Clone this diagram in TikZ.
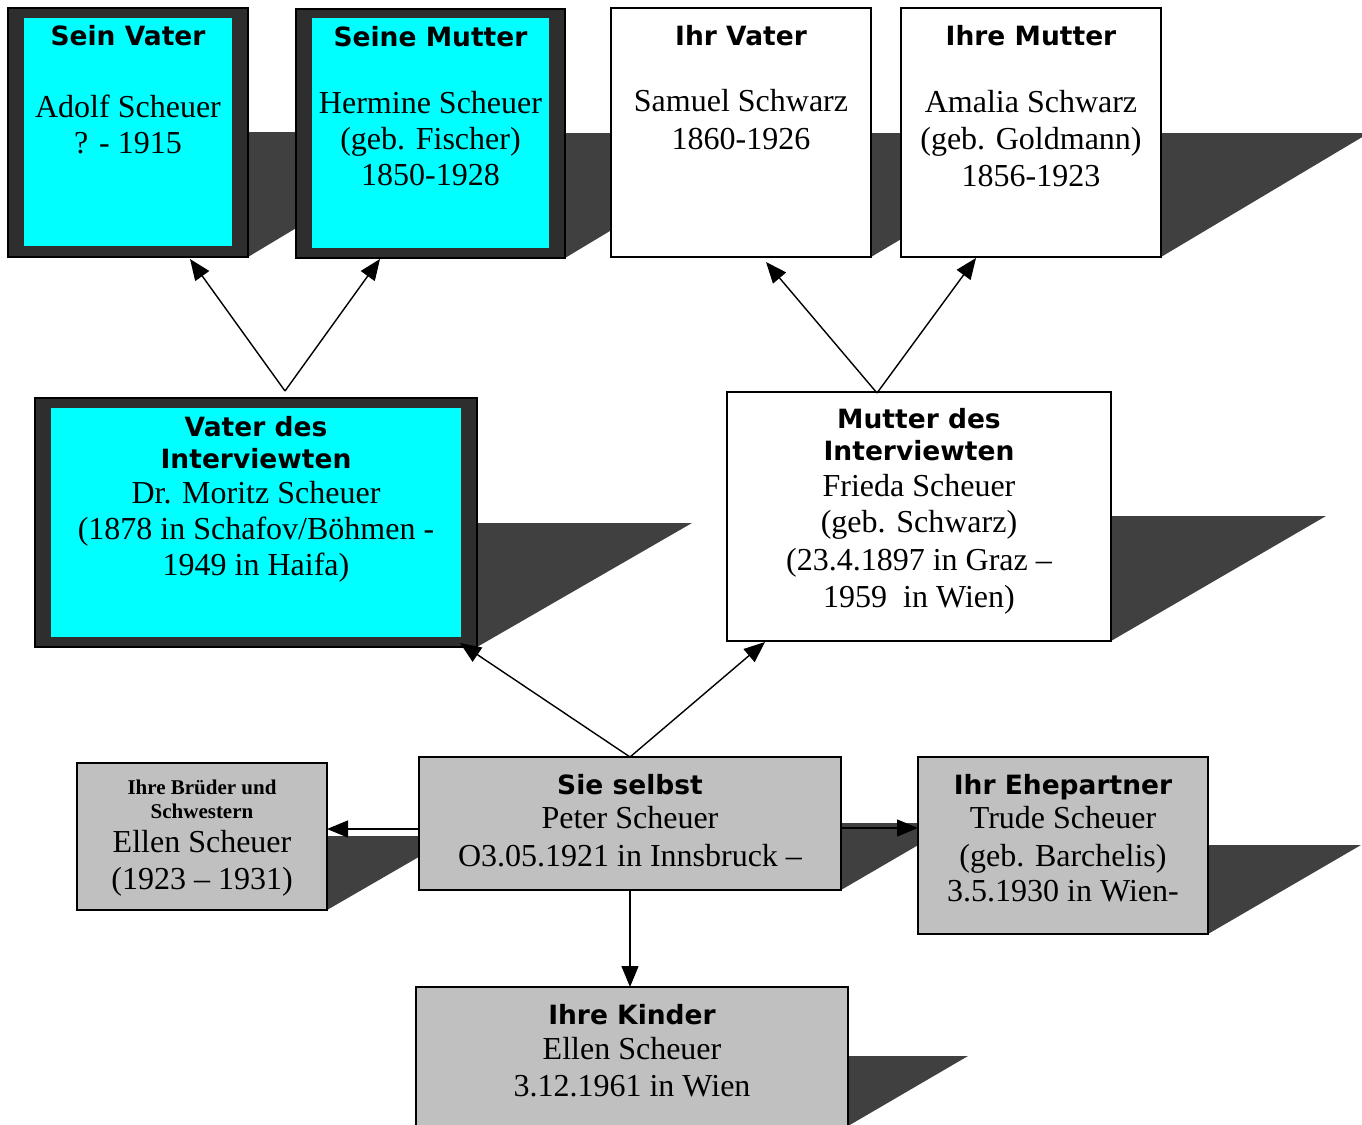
\documentclass[tikz,border=0pt]{standalone}
\usepackage{fontspec}
\setmainfont{Liberation Serif}
\newfontfamily\hdfont{DejaVu Sans}
\usetikzlibrary{arrows.meta}
\definecolor{cyanfill}{HTML}{00FFFF}
\definecolor{framefill}{HTML}{2E2E2E}
\definecolor{shade}{HTML}{404040}
\definecolor{greyfill}{HTML}{C0C0C0}
\newcommand{\hd}[1]{{\hdfont\bfseries\fontsize{26.5}{36}\selectfont #1}}
\newcommand{\sm}[1]{{\bfseries\fontsize{21}{24}\selectfont #1}}
\begin{document}
\begin{tikzpicture}[x=1pt,y=-1pt,
  box/.style={draw=black, line width=1.2pt, rectangle, inner sep=0pt, outer sep=0pt, anchor=north west},
  framed/.style={box, fill=framefill},
  plain/.style={box, fill=white},
  grey/.style={box, fill=greyfill},
  inner/.style={rectangle, fill=cyanfill, inner sep=0pt, outer sep=0pt, anchor=north west},
  txt/.style={align=center, inner sep=0pt, outer sep=0pt, anchor=north, font=\fontsize{32}{36}\selectfont},
  shadow/.style={fill=shade, draw=none},
  arr/.style={line width=1.4pt, -{Triangle[length=21pt,width=17pt]}}]
\clip (0,0) rectangle (1362,1124);
\fill[white] (0,0) rectangle (1362,1124);

% shadows
\fill[shadow] (248,132) -- (456,132) -- (248,257) -- cycle;
\fill[shadow] (565,133) -- (773,133) -- (565,258) -- cycle;
\fill[shadow] (871,133) -- (1079,133) -- (871,257) -- cycle;
\fill[shadow] (1161,133) -- (1369,133) -- (1161,257) -- cycle;
\fill[shadow] (477,523) -- (692,523) -- (477,647) -- cycle;
\fill[shadow] (1111,516) -- (1326,516) -- (1111,641) -- cycle;
\fill[shadow] (327,836) -- (455,836) -- (327,910) -- cycle;
\fill[shadow] (841,823) -- (956,823) -- (841,890) -- cycle;
\fill[shadow] (1208,845) -- (1361,845) -- (1208,934) -- cycle;
\fill[shadow] (848,1056) -- (968,1056) -- (848,1126) -- cycle;

% boxes
\node[framed, minimum width=240pt, minimum height=249pt] (sv) at (8,8) {};
\node[inner, minimum width=208pt, minimum height=228pt] (svIn) at (24,18) {};
\node[framed, minimum width=269pt, minimum height=249pt] (smu) at (296,9) {};
\node[inner, minimum width=237pt, minimum height=230pt] (smuIn) at (312,18) {};
\node[plain, minimum width=260pt, minimum height=249pt] (iv) at (611,8) {};
\node[plain, minimum width=260pt, minimum height=249pt] (im) at (901,8) {};
\node[framed, minimum width=442pt, minimum height=249pt] (vdi) at (35,398) {};
\node[inner, minimum width=410pt, minimum height=229pt] (vdiIn) at (51,408) {};
\node[plain, minimum width=384pt, minimum height=249pt] (mdi) at (727,392) {};
\node[grey, minimum width=422pt, minimum height=133pt] (ss) at (419,757) {};
\node[grey, minimum width=250pt, minimum height=147pt] (bs) at (77,763) {};
\node[grey, minimum width=290pt, minimum height=177pt] (ep) at (918,757) {};
\node[grey, minimum width=432pt, minimum height=160pt] (kd) at (416,987) {};

% connectors
\draw[arr] ([xshift=29pt,yshift=7pt]vdi.north) -- ([xshift=62pt,yshift=-2pt]sv.south);
\draw[arr] ([xshift=29pt,yshift=7pt]vdi.north) -- ([xshift=-50.5pt,yshift=-1pt]smu.south);
\draw[arr] ([xshift=-42pt,yshift=-1pt]mdi.north) -- ([xshift=25pt,yshift=-5pt]iv.south);
\draw[arr] ([xshift=-42pt,yshift=-1pt]mdi.north) -- ([xshift=-55pt,yshift=-1pt]im.south);
\draw[arr] (ss.north) -- ([xshift=204pt,yshift=4pt]vdi.south);
\draw[arr] (ss.north) -- ([xshift=-154pt,yshift=-1pt]mdi.south);
\draw[arr] ([yshift=-5.5pt]ss.west) -- ([yshift=7.5pt]bs.east);
\draw[arr] ([yshift=-4.5pt]ss.east) -- ([yshift=17.5pt]ep.west);
\draw[arr] (ss.south) -- ([xshift=-2pt]kd.north);

% texts
\node[txt] (svT) at ([yshift=-17pt]sv.north) {\hd{Sein Vater}\\[36.5pt]Adolf Scheuer\\? - 1915};
\node[txt] (smuT) at ([yshift=-17pt]smu.north) {\hd{Seine Mutter}\\[31.5pt]Hermine Scheuer\\(geb. Fischer)\\1850-1928};
\node[txt] (ivT) at ([yshift=-17pt]iv.north) {\hd{Ihr Vater}\\[30.5pt]Samuel Schwarz\\[2pt]1860-1926};
\node[txt] (imT) at ([yshift=-17pt]im.north) {\hd{Ihre Mutter}\\[31pt]Amalia Schwarz\\[1pt](geb. Goldmann)\\[1pt]1856-1923};
\node[txt] (vdiT) at ([yshift=-18pt]vdi.north) {\hd{Vater des}\\[-4pt]\hd{Interviewten}\\[-0.5pt]Dr. Moritz Scheuer\\(1878 in Schafov/Böhmen -\\1949 in Haifa)};
\node[txt] (mdiT) at ([yshift=-16pt]mdi.north) {\hd{Mutter des}\\[-4pt]\hd{Interviewten}\\[0.5pt]Frieda Scheuer\\(geb. Schwarz)\\[2pt](23.4.1897 in Graz –\\[1pt]1959\ \ in Wien)};
\node[txt] (ssT) at ([yshift=-17pt]ss.north) {\hd{Sie selbst}\\[-1.5pt]Peter Scheuer\\[2pt]O3.05.1921 in Innsbruck –};
\node[txt] (bsT) at ([yshift=-16.5pt]bs.north) {\sm{Ihre Brüder und}\\[-12pt]\sm{Schwestern}\\[-1.5pt]Ellen Scheuer\\[1pt](1923 – 1931)};
\node[txt] (epT) at ([yshift=-17pt]ep.north) {\hd{Ihr Ehepartner}\\[-1.5pt]Trude Scheuer\\[2pt](geb. Barchelis)\\[-1pt]3.5.1930 in Wien-};
\node[txt] (kdT) at ([yshift=-17pt]kd.north) {\hd{Ihre Kinder}\\[-0.5pt]Ellen Scheuer\\[1pt]3.12.1961 in Wien};
\end{tikzpicture}
\end{document}
